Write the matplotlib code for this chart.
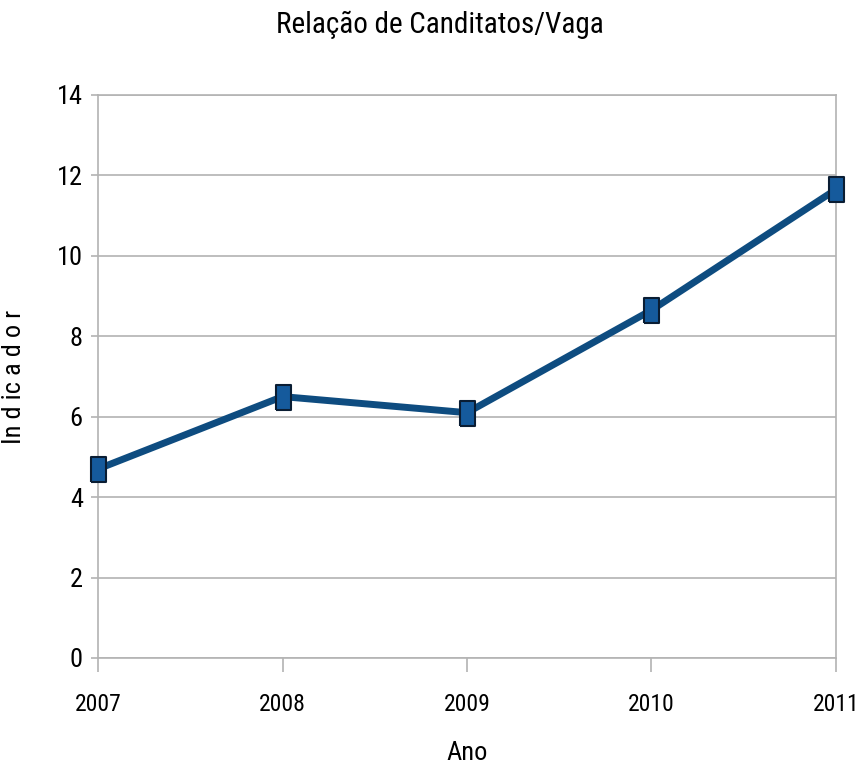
import matplotlib.pyplot as plt
from matplotlib import font_manager

# data
anos = ["2007", "2008", "2009", "2010", "2011"]
indicador = [4.7, 6.5, 6.1, 8.65, 11.65]
y_ticks = [0, 2, 4, 6, 8, 10, 12, 14]

names = {f.name for f in font_manager.fontManager.ttflist}
narrow = [n for n in ["Liberation Sans Narrow", "Roboto Condensed", "DejaVu Sans Condensed"]
          if n in names]
plt.rcParams['font.family'] = narrow + ['Liberation Sans', 'DejaVu Sans']

fig = plt.figure(figsize=(8.6, 7.66), dpi=100)
ax = fig.add_axes([0.114, 0.141, 0.858, 0.735])

x = range(len(anos))
# tall rectangular markers like the spreadsheet export
box = [(-0.6, -1), (0.6, -1), (0.6, 1), (-0.6, 1), (-0.6, -1)]
ax.plot(x, indicador, color="#0e4c80", linewidth=5, solid_joinstyle="round",
        marker=box, markersize=18, markerfacecolor="#155a9c",
        markeredgecolor="#0a1d33", markeredgewidth=1.5, zorder=3, clip_on=False)

ax.set_xlim(0, len(anos) - 1)
ax.set_ylim(0, 14)
ax.set_xticks(list(x))
ax.set_xticklabels(anos)
ax.set_yticks(y_ticks)

ax.yaxis.grid(True, color="#b3b3b3", linewidth=1.2)
ax.set_axisbelow(True)
for s in ax.spines.values():
    s.set_color("#b3b3b3")
    s.set_linewidth(1.2)

ax.tick_params(axis="x", direction="out", length=10, width=1.2, color="#b3b3b3",
               labelsize=17, pad=15)
ax.tick_params(axis="y", direction="out", length=5, width=1.2, color="#b3b3b3",
               labelsize=19, pad=6)

fig.text(440 / 860, 1 - 25 / 766, "Relação de Canditatos/Vaga", fontsize=21,
         ha="center", va="center")
ax.set_xlabel("Ano", fontsize=19, labelpad=18)
ax.set_ylabel("In d ic a d o r", fontsize=19, labelpad=22)

fig.savefig("out.png", dpi=100, facecolor="white")
